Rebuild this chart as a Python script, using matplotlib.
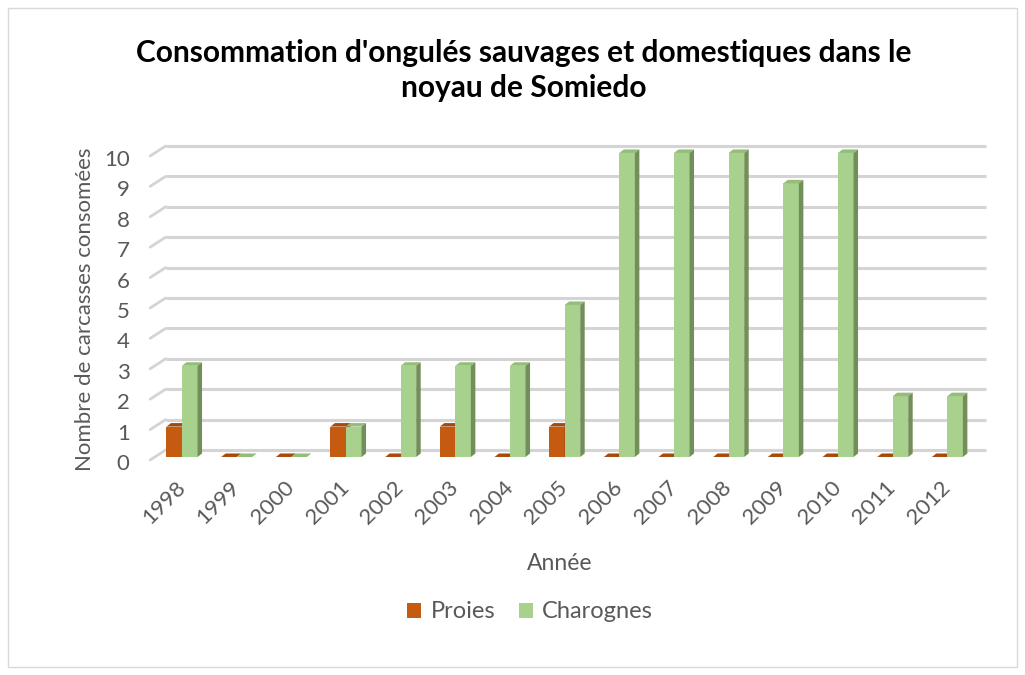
import matplotlib.pyplot as plt
import matplotlib.transforms as mtransforms
from matplotlib.patches import Polygon, Patch, Rectangle

years = ["1998", "1999", "2000", "2001", "2002", "2003", "2004", "2005",
         "2006", "2007", "2008", "2009", "2010", "2011", "2012"]
proies = [1, 0, 0, 1, 0, 1, 0, 1, 0, 0, 0, 0, 0, 0, 0]
charognes = [3, 0, 0, 1, 3, 3, 3, 5, 10, 10, 10, 9, 10, 2, 2]
yticks = list(range(0, 11))

title = "Consommation d'ongulés sauvages et domestiques dans le\nnoyau de Somiedo"
xlabel = "Année"
ylabel = "Nombre de carcasses consomées"

ORANGE = ("#c55a11", "#a64a0c", "#8a3c0a")   # front, top, side
GREEN = ("#a9d18e", "#93bd78", "#728f59")
TXT = "#595959"
GRID = "#d4d4d4"

plt.rcParams['font.family'] = ['Lato', 'DejaVu Sans']

fig = plt.figure(figsize=(10.25, 6.75), dpi=100)
ax = fig.add_axes([0.1509, 0.323, 0.80, 0.4504])
ax.set_xlim(-0.5, len(years) - 0.5)
ax.set_ylim(0, 10)
for s in ax.spines.values():
    s.set_visible(False)

# pixel -> data conversion for the fake 3d depth
ax_w = 0.80 * 1025
ax_h = 0.4504 * 675
dx = 4.5 * len(years) / ax_w
dy = 3.5 * 10 / ax_h


def px(x, y):
    return mtransforms.ScaledTranslation(x / 100, y / 100, fig.dpi_scale_trans)


# back wall gridlines with slanted left end
blend = mtransforms.blended_transform_factory(ax.transAxes, ax.transData)
for v in yticks:
    ax.plot([0, 1], [v, v], color=GRID, lw=2.2, transform=blend + px(11, 7),
            clip_on=False, zorder=1, solid_capstyle="butt")
    ax.annotate("", xy=(0, v), xycoords=blend + px(11, 7),
                xytext=(0, v), textcoords=blend + px(-4.5, -3),
                arrowprops=dict(arrowstyle="-", color=GRID, lw=2.0,
                                shrinkA=0, shrinkB=0), annotation_clip=False)

bw = 0.284


def bar3d(xc, v, cols):
    x0, x1 = xc - bw / 2, xc + bw / 2
    h = max(v, 0.0)
    if h > 0:
        ax.add_patch(Rectangle((x0, 0), bw, h, facecolor=cols[0], edgecolor="none",
                               zorder=3, clip_on=False))
    ax.add_patch(Polygon([(x0, h), (x1, h), (x1 + dx, h + dy), (x0 + dx, h + dy)],
                         closed=True, facecolor=cols[1], edgecolor="none", zorder=3,
                         clip_on=False))
    if h > 0:
        ax.add_patch(Polygon([(x1, 0), (x1, h), (x1 + dx, h + dy), (x1 + dx, dy)],
                             closed=True, facecolor=cols[2], edgecolor="none",
                             zorder=3, clip_on=False))


for i in range(len(years)):
    bar3d(i - bw / 2, proies[i], ORANGE)
    bar3d(i + bw / 2, charognes[i], GREEN)

ax.set_yticks(yticks)
ax.set_yticklabels([str(v) for v in yticks], fontsize=16, color=TXT)
ax.tick_params(axis="y", length=0, pad=18)
for lab in ax.get_yticklabels():
    lab.set_transform(lab.get_transform() + px(0, -5))

ax.set_xticks(range(len(years)))
ax.set_xticklabels(years, rotation=45, ha="right", va="center",
                   rotation_mode="anchor", fontsize=16, color=TXT)
ax.tick_params(axis="x", length=0, pad=20)

fig.text(560 / 1025, 1 - 563 / 675, xlabel, ha="center", va="center",
         fontsize=16.5, color=TXT)
fig.text(85 / 1025, 1 - 309 / 675, ylabel, ha="center", va="center",
         rotation=90, fontsize=16, color=TXT)
fig.text(524 / 1025, 1 - 70.5 / 675, title, ha="center", va="center",
         fontsize=21.5, fontweight="bold", color="black", linespacing=1.33)

handles = [Patch(facecolor=ORANGE[0], label="Proies"),
           Patch(facecolor=GREEN[0], label="Charognes")]
leg = fig.legend(handles=handles, loc="center", bbox_to_anchor=(530 / 1025, 1 - 612 / 675),
                 ncol=2, frameon=False, fontsize=17, handlelength=0.6,
                 handleheight=0.6, handletextpad=0.4, columnspacing=1.0)
for t in leg.get_texts():
    t.set_color(TXT)

fig.patches.append(Rectangle((8 / 1025, 8 / 675), 1009 / 1025, 659 / 675,
                             transform=fig.transFigure, fill=False,
                             edgecolor="#d9d9d9", lw=1))

fig.savefig("out.png", dpi=100, facecolor="white")
